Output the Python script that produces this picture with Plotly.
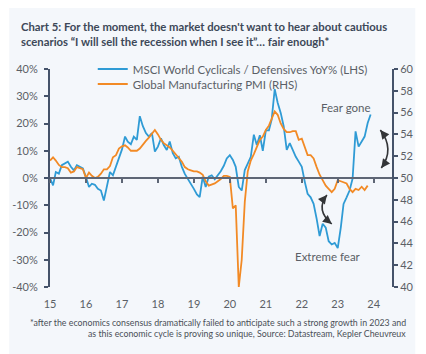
import plotly.graph_objects as go
import pandas as pd

# ---------------- data ----------------
# MSCI World Cyclicals / Defensives YoY% (LHS), monthly Jan-2015 .. Dec-2023
cyc_def_yoy = [
    0.0, -2.7, 2.2, 1.6, 4.7, 5.3, 6.0, 4.1, 2.8, 4.7, 4.1, 3.5,          # 2015
    0.4, -3.3, -2.1, -2.5, -4.0, -4.6, -8.3, -3.3, 2.2, 1.0, 4.1, 7.0,    # 2016
    10.5, 15.2, 13.3, 12.4, 15.2, 14.0, 22.7, 19.0, 16.5, 15.2, 16.5, 9.7,  # 2017
    11.5, 14.6, 12.1, 10.3, 13.4, 9.1, 7.2, 7.8, 4.1, 1.5, -0.2, -2.1,    # 2018
    -4.0, -6.0, -7.0, 0.5, -3.3, 0.5, 1.0, -0.5, 1.0, 2.5, 4.5, 7.2,      # 2019
    8.4, 6.6, 4.1, -3.3, -4.6, 2.9, 5.3, 7.8, 15.9, 12.1, 15.7, 10.0,     # 2020
    17.5, 17.5, 21.4, 32.6, 27.6, 23.9, 19.0, 10.3, 12.8, 10.3, 7.8, 6.0,  # 2021
    4.1, -1.5, -5.8, -7.1, -9.5, -15.0, -21.3, -16.8, -18.2, -23.2, -24.4, -23.8,  # 2022
    -25.7, -18.2, -9.5, -7.1, -4.6, -0.2, 17.1, 11.5, 13.4, 15.2, 20.2, 23.3,  # 2023
]

# Global Manufacturing PMI (RHS), monthly Jan-2015 .. Nov-2023
global_pmi = [
    51.6, 51.9, 51.6, 51.2, 51.0, 51.0, 50.9, 50.5, 50.6, 51.0, 50.9, 50.8,  # 2015
    50.0, 50.5, 50.2, 50.0, 50.1, 50.4, 50.8, 50.8, 51.1, 51.9, 52.1, 52.7,  # 2016
    52.9, 53.0, 52.8, 52.5, 52.5, 52.5, 52.7, 53.1, 53.4, 53.7, 54.1, 54.4,  # 2017
    54.0, 53.5, 53.2, 53.0, 52.8, 52.5, 52.2, 51.9, 51.5, 51.0, 50.8, 50.7,  # 2018
    50.6, 50.6, 50.5, 50.3, 49.7, 49.3, 49.4, 49.5, 49.7, 49.9, 50.2, 50.2,  # 2019
    50.1, 47.2, 47.5, 40.0, 42.5, 47.8, 50.6, 51.6, 52.2, 52.9, 53.5, 53.8,  # 2020
    54.4, 54.8, 55.5, 56.1, 55.8, 55.0, 54.5, 54.2, 54.2, 54.3, 54.3, 53.5,  # 2021
    53.6, 52.9, 52.1, 52.1, 51.8, 51.0, 50.3, 49.8, 49.3, 49.0, 48.7, 49.0,  # 2022
    49.8, 49.7, 49.6, 49.5, 49.0, 48.7, 49.0, 48.9, 49.2, 48.9, 49.3,        # 2023
]

year_ticks = [f"{y}-01-01" for y in range(2015, 2025)]
year_labels = ["15", "16", "17", "18", "19", "20", "21", "22", "23", "24"]
lhs_ticks = [-40, -30, -20, -10, 0, 10, 20, 30, 40]
lhs_labels = [f"{v}%" for v in lhs_ticks]
rhs_ticks = [40, 42, 44, 46, 48, 50, 52, 54, 56, 58, 60]

series_names = ["MSCI World Cyclicals / Defensives YoY% (LHS)",
                "Global Manufacturing PMI (RHS)"]

title_lines = [
    "Chart 5: For the moment, the market doesn't want to hear about cautious",
    "scenarios \u201cI will sell the recession when I see it\u201d\u2026 fair enough*",
]
foot_lines = [
    "*after the economics consensus dramatically failed to anticipate such a strong growth in 2023 and",
    "as this economic cycle is proving so unique, Source: Datastream, Kepler Cheuvreux",
]

# ---------------- layout geometry ----------------
W, H = 426, 354
L, R, T, B = 42, 32, 69, 67
PW, PH = W - L - R, H - T - B


def px(xp):
    return (xp - L) / PW


def py(yp):
    return (T + PH - yp) / PH


FONT = "Lato, 'Open Sans', sans-serif"
BLUE = "#2f9bd5"
ORANGE = "#f28a25"
AX = "#45536a"
TXT = "#5b5f66"

months_cyc = pd.date_range("2015-01-01", periods=len(cyc_def_yoy), freq="MS")
months_pmi = pd.date_range("2015-01-01", periods=len(global_pmi), freq="MS")

fig = go.Figure()
fig.add_trace(go.Scatter(x=months_cyc, y=cyc_def_yoy, name=series_names[0],
                         mode="lines", line=dict(color=BLUE, width=1.8),
                         yaxis="y", legend="legend"))
fig.add_trace(go.Scatter(x=months_pmi, y=global_pmi, name=series_names[1],
                         mode="lines", line=dict(color=ORANGE, width=1.8),
                         yaxis="y2", legend="legend2"))
# carrier for the zero-line axis (no visible mark)
fig.add_trace(go.Scatter(x=[months_cyc[0]], y=[0], xaxis="x2", yaxis="y",
                         mode="markers", marker=dict(opacity=0),
                         showlegend=False, hoverinfo="skip"))

xrange = ["2015-01-01", "2024-07-05"]
tickfont = dict(family=FONT, size=11, color=TXT)

fig.update_layout(
    width=W, height=H,
    margin=dict(l=L, r=R, t=T, b=B),
    paper_bgcolor="white",
    plot_bgcolor="rgba(0,0,0,0)",
    font=dict(family=FONT, size=11, color=TXT),
    showlegend=True,
    xaxis=dict(type="date", range=xrange, tickmode="array",
               tickvals=year_ticks, ticktext=year_labels,
               showgrid=False, zeroline=False, showline=False,
               ticks="outside", ticklen=7, tickcolor="rgba(0,0,0,0)",
               tickfont=tickfont),
    xaxis2=dict(type="date", range=xrange, overlaying="x", anchor="free",
                position=0.5, side="bottom", tickmode="array",
                tickvals=year_ticks, showticklabels=False,
                showgrid=False, zeroline=False, showline=True,
                linecolor="#5e6675", linewidth=1.5,
                ticks="outside", ticklen=4, tickwidth=1.5, tickcolor="#5e6675"),
    yaxis=dict(range=[-40, 40], tickmode="array", tickvals=lhs_ticks,
               ticktext=lhs_labels, showgrid=False, zeroline=False,
               showline=True, linecolor=AX, linewidth=2,
               ticks="outside", ticklen=4, tickwidth=1.5, tickcolor=AX,
               ticklabelstandoff=4, tickfont=tickfont),
    yaxis2=dict(range=[40, 60], tickmode="array", tickvals=rhs_ticks,
                overlaying="y", side="right", showgrid=False, zeroline=False,
                showline=True, linecolor=AX, linewidth=2,
                ticks="outside", ticklen=4, tickwidth=1.5, tickcolor=AX,
                tickfont=tickfont),
    legend=dict(x=px(86), y=py(69), xanchor="left", yanchor="middle",
                bgcolor="rgba(0,0,0,0)", borderwidth=0,
                font=dict(family=FONT, size=11.5, color=TXT)),
    legend2=dict(x=px(86), y=py(84), xanchor="left", yanchor="middle",
                 bgcolor="rgba(0,0,0,0)", borderwidth=0,
                 font=dict(family=FONT, size=11.5, color=TXT)),
)

# panel background (light, with thin white border at top/right)
fig.add_shape(type="rect", xref="paper", yref="paper",
              x0=px(0), x1=px(418), y0=py(354), y1=py(8),
              fillcolor="#f4f7fb", line=dict(width=0), layer="below")

# title
for i, line in enumerate(title_lines):
    fig.add_annotation(text=f"<b>{line}</b>", xref="paper", yref="paper",
                       x=px(10), y=py(26.5 + 15 * i), xanchor="left",
                       yanchor="middle", showarrow=False,
                       font=dict(family=FONT, size=11.3, color="#3d4858"))

# footnote (right aligned)
for i, line in enumerate(foot_lines):
    fig.add_annotation(text=line, xref="paper", yref="paper",
                       x=px(410), y=py(322.5 + 11 * i), xanchor="right",
                       yanchor="middle", showarrow=False,
                       font=dict(family=FONT, size=8.8, color="#4a4f57"))

# labels
fig.add_annotation(text="Fear gone", xref="paper", yref="paper",
                   x=px(347), y=py(107), xanchor="center", yanchor="middle",
                   showarrow=False,
                   font=dict(family=FONT, size=11.5, color=TXT))
fig.add_annotation(text="Extreme fear", xref="paper", yref="paper",
                   x=px(328), y=py(256), xanchor="center", yanchor="middle",
                   showarrow=False,
                   font=dict(family=FONT, size=11.5, color=TXT))

# curved double-headed arrows
ARW = "#333538"


def curved_arrow(p0, c, p2):
    path = (f"M {px(p0[0])},{py(p0[1])} Q {px(c[0])},{py(c[1])} "
            f"{px(p2[0])},{py(p2[1])}")
    fig.add_shape(type="path", xref="paper", yref="paper", path=path,
                  line=dict(color=ARW, width=1.6))
    for tip, ctrl in ((p0, c), (p2, c)):
        dx, dy = ctrl[0] - tip[0], ctrl[1] - tip[1]
        n = (dx * dx + dy * dy) ** 0.5
        fig.add_annotation(xref="paper", yref="paper", x=px(tip[0]),
                           y=py(tip[1]), ax=6 * dx / n, ay=6 * dy / n,
                           text="", showarrow=True, arrowhead=2,
                           arrowsize=1.1, arrowwidth=1.6, arrowcolor=ARW)


curved_arrow((382, 130), (397, 149), (383, 168))
curved_arrow((327, 195), (315, 210), (332, 224))

fig.write_html("out.html")
